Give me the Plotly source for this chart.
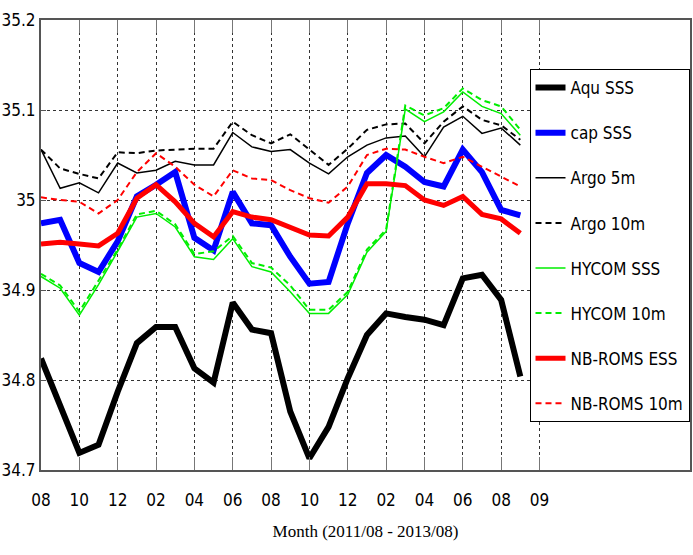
import plotly.graph_objects as go

months = list(range(26))

aqu_sss = [34.824, 34.771, 34.719, 34.728, 34.787, 34.841, 34.859, 34.859, 34.813, 34.797,
           34.886, 34.856, 34.852, 34.765, 34.713, 34.748, 34.802, 34.850, 34.874, 34.870,
           34.867, 34.861, 34.913, 34.917, 34.889, 34.804]
cap_sss = [34.974, 34.978, 34.930, 34.920, 34.954, 35.004, 35.017, 35.031, 34.958, 34.944,
           35.009, 34.974, 34.972, 34.937, 34.907, 34.909, 34.974, 35.030, 35.050, 35.037,
           35.020, 35.015, 35.056, 35.031, 34.989, 34.983]
argo_5m = [35.056, 35.013, 35.019, 35.008, 35.041, 35.030, 35.033, 35.043, 35.039, 35.039,
           35.075, 35.059, 35.054, 35.056, 35.041, 35.029, 35.048, 35.061, 35.069, 35.071,
           35.048, 35.081, 35.093, 35.074, 35.080, 35.061]
argo_10m = [35.056, 35.035, 35.029, 35.024, 35.053, 35.052, 35.055, 35.056, 35.057, 35.057,
            35.087, 35.072, 35.063, 35.073, 35.056, 35.039, 35.057, 35.078, 35.084, 35.085,
            35.063, 35.087, 35.104, 35.089, 35.083, 35.067]
hycom_sss = [34.915, 34.902, 34.872, 34.906, 34.943, 34.981, 34.985, 34.970, 34.937, 34.934,
             34.957, 34.926, 34.920, 34.898, 34.874, 34.874, 34.895, 34.942, 34.965, 35.101,
             35.087, 35.098, 35.120, 35.104, 35.096, 35.072]
hycom_10m = [34.918, 34.905, 34.876, 34.910, 34.945, 34.984, 34.988, 34.973, 34.940, 34.943,
             34.960, 34.930, 34.925, 34.905, 34.878, 34.878, 34.898, 34.945, 34.967, 35.105,
             35.094, 35.102, 35.124, 35.111, 35.104, 35.078]
nbroms_ess = [34.951, 34.953, 34.951, 34.949, 34.963, 35.002, 35.017, 34.998, 34.974, 34.959,
              34.987, 34.981, 34.978, 34.969, 34.961, 34.960, 34.981, 35.018, 35.018, 35.016,
              35.000, 34.994, 35.004, 34.984, 34.979, 34.963]
nbroms_10m = [35.003, 35.000, 34.998, 34.985, 35.000, 35.031, 35.052, 35.037, 35.017, 35.004,
              35.033, 35.024, 35.022, 35.011, 35.002, 34.997, 35.015, 35.050, 35.057, 35.056,
              35.048, 35.041, 35.048, 35.037, 35.026, 35.015]

x_tickvals = list(range(0, 27, 2))
x_ticktext = ["08", "10", "12", "02", "04", "06", "08", "10", "12", "02", "04", "06", "08", "09"]
y_tickvals = [34.7, 34.8, 34.9, 35.0, 35.1, 35.2]
y_ticktext = ["34.7", "34.8", "34.9", "35", "35.1", "35.2"]

series = [
    ("Aqu SSS", aqu_sss, "black", 6, "solid"),
    ("cap SSS", cap_sss, "#0000ff", 6, "solid"),
    ("Argo 5m", argo_5m, "black", 1.5, "solid"),
    ("Argo 10m", argo_10m, "black", 2, "6px,4px"),
    ("HYCOM SSS", hycom_sss, "#00ee00", 1.5, "solid"),
    ("HYCOM 10m", hycom_10m, "#00ee00", 2, "6px,4px"),
    ("NB-ROMS ESS", nbroms_ess, "#ff0000", 5, "solid"),
    ("NB-ROMS 10m", nbroms_10m, "#ff0000", 2, "6px,4px"),
]

font_narrow = "DejaVu Sans Condensed, Liberation Sans Narrow, sans-serif"

fig = go.Figure()
for i, (name, vals, color, w, dash) in enumerate(series):
    fig.add_trace(go.Scatter(
        x=months, y=vals, mode="lines", name=name, legendgroup=f"g{i}",
        line=dict(color=color, width=w, dash=dash),
    ))

fig.update_layout(
    width=693, height=555,
    margin=dict(l=41, r=1, t=20, b=85),
    paper_bgcolor="white", plot_bgcolor="white",
    showlegend=True,
    legend=dict(
        x=0.7527, y=0.891, xanchor="left", yanchor="top",
        bgcolor="white", bordercolor="black", borderwidth=1,
        font=dict(family=font_narrow, size=17, color="black"),
        tracegroupgap=20,
    ),
    xaxis=dict(
        range=[0, 33.85], tickmode="array", tickvals=x_tickvals, ticktext=x_ticktext,
        showgrid=True, gridcolor="#333333", griddash="dot", gridwidth=1,
        ticks="inside", ticklen=13, tickcolor="#777777", tickwidth=1,
        showline=True, linecolor="#555555", linewidth=2, mirror="ticks",
        zeroline=False,
        tickfont=dict(family=font_narrow, size=17, color="black"),
        ticklabelstandoff=14,
        title=dict(text="Month (2011/08 - 2013/08)",
                   font=dict(family="Liberation Serif, Times New Roman, serif", size=17, color="black"),
                   standoff=16),
    ),
    yaxis=dict(
        range=[34.7, 35.2], tickmode="array", tickvals=y_tickvals, ticktext=y_ticktext,
        showgrid=True, gridcolor="#333333", griddash="dot", gridwidth=1,
        ticks="inside", ticklen=5, tickcolor="#555555", tickwidth=1,
        showline=True, linecolor="#555555", linewidth=2, mirror="ticks",
        zeroline=False,
        tickfont=dict(family=font_narrow, size=17, color="black"),
    ),
)

fig.write_html("out.html")
